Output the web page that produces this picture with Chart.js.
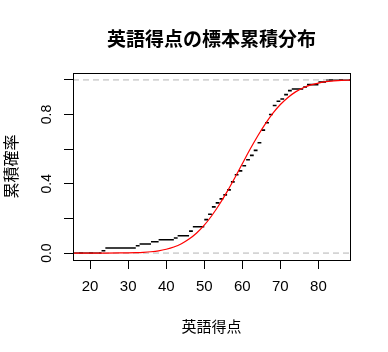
<!DOCTYPE html>
<html>
<head>
<meta charset="utf-8">
<script src="https://cdn.jsdelivr.net/npm/chart.js@4.4.1/dist/chart.umd.min.js"></script>
<style>
  body { margin: 0; background: #fff; }
</style>
</head>
<body>
<canvas id="ecdf" width="388" height="352"></canvas>
<script>
const mainTitle = '英語得点の標本累積分布';
const xTitle = '英語得点';
const yTitle = '累積確率';

// ECDF: score where a step happens, and the cumulative share after it
const knots   = [23, 24, 32, 33, 36, 38, 42, 43, 46, 47, 50, 51, 52, 53, 54, 55, 56, 57, 58, 59,
                 60, 61, 62, 63, 64, 65, 66, 67, 68, 69, 70, 71, 72, 73, 76, 77, 80, 82];
const cumProb = [0.013, 0.029, 0.042, 0.052, 0.065, 0.077, 0.087, 0.100, 0.127, 0.152,
                 0.193, 0.224, 0.267, 0.290, 0.313, 0.336, 0.365, 0.411, 0.452, 0.475,
                 0.504, 0.539, 0.564, 0.593, 0.637, 0.710, 0.753, 0.800, 0.852, 0.877,
                 0.890, 0.915, 0.938, 0.948, 0.959, 0.973, 0.988, 1.000];

// red normal curve
const curveX = [15.5, 20, 24, 28, 30, 32, 34, 36, 38, 40, 42, 44, 46, 48, 50, 52, 54, 56, 58,
                60, 62, 64, 66, 68, 70, 72, 74, 76, 78, 80, 82, 84, 86, 88.3];
const curveY = [0, 0, 0.0001, 0.0006, 0.0011, 0.0022, 0.0041, 0.0075, 0.013, 0.022, 0.035,
                0.054, 0.081, 0.116, 0.161, 0.217, 0.282, 0.355, 0.434, 0.516, 0.598, 0.675,
                0.745, 0.807, 0.858, 0.899, 0.931, 0.955, 0.971, 0.982, 0.990, 0.994, 0.997, 0.9985];

const xTicks = [20, 30, 40, 50, 60, 70, 80];
const yTicks = [0, 0.2, 0.4, 0.6, 0.8, 1];
const yTickLabels = ['0.0', '', '0.4', '', '0.8', ''];
const refLevels = [0, 1];
const xRange = [15.5, 88.3];
const yRange = [-0.04, 1.04];

// horizontal step pieces, broken apart with nulls
const edges = [xRange[0], ...knots, xRange[1]];
const levels = [0, ...cumProb];
const stepPts = [];
levels.forEach((lv, i) => {
  stepPts.push({x: edges[i], y: lv}, {x: edges[i + 1], y: lv}, {x: edges[i + 1], y: null});
});

const refPts = [];
refLevels.forEach(lv => {
  refPts.push({x: xRange[0], y: lv}, {x: xRange[1], y: lv}, {x: xRange[1], y: null});
});

const curvePts = curveX.map((x, i) => ({x: x, y: curveY[i]}));

const jpFont = '"Noto Sans CJK JP", sans-serif';
const numFont = '"Liberation Sans", Arial, sans-serif';

const extras = {
  id: 'extras',
  afterDraw(chart) {
    const {ctx, chartArea: a, scales} = chart;
    ctx.save();
    // box
    ctx.strokeStyle = '#000';
    ctx.lineWidth = 1;
    ctx.strokeRect(a.left + 0.5, a.top + 0.5, a.right - a.left, a.bottom - a.top);
    // rotated y tick labels
    ctx.fillStyle = '#000';
    ctx.font = '14px ' + numFont;
    ctx.textAlign = 'center';
    ctx.textBaseline = 'middle';
    yTicks.forEach((v, i) => {
      if (!yTickLabels[i]) return;
      ctx.save();
      ctx.translate(a.left - 26, scales.y.getPixelForValue(v));
      ctx.rotate(-Math.PI / 2);
      ctx.fillText(yTickLabels[i], 0, 0);
      ctx.restore();
    });
    // main title
    ctx.font = 'bold 19px ' + jpFont;
    ctx.fillText(mainTitle, (a.left + a.right) / 2, 39);
    ctx.restore();
  }
};

new Chart(document.getElementById('ecdf'), {
  type: 'scatter',
  data: {
    datasets: [
      {data: curvePts, showLine: true, borderColor: '#ff0000', borderWidth: 1.2,
       pointRadius: 0, cubicInterpolationMode: 'monotone', order: 0},
      {data: refPts, showLine: true, borderColor: '#b3b3b3', borderWidth: 1,
       borderDash: [6, 4], pointRadius: 0, spanGaps: false, order: 1},
      {data: stepPts, showLine: true, borderColor: '#000', borderWidth: 1.6,
       pointRadius: 0, spanGaps: false, order: 2}
    ]
  },
  options: {
    responsive: false,
    animation: false,
    layout: {padding: {top: 73, right: 38, left: 0, bottom: 0}},
    plugins: {legend: {display: false}, tooltip: {enabled: false}, title: {display: false}},
    scales: {
      x: {
        type: 'linear', min: xRange[0], max: xRange[1],
        afterBuildTicks: s => { s.ticks = xTicks.map(v => ({value: v})); },
        afterFit: s => { s.height = 92; },
        grid: {drawOnChartArea: false, drawTicks: true, tickLength: 9, color: '#000'},
        border: {display: true, color: '#000'},
        ticks: {color: '#000', font: {family: numFont, size: 15}, padding: 9,
                maxRotation: 0, autoSkip: false},
        title: {display: true, text: xTitle, color: '#000',
                font: {family: jpFont, size: 15}, padding: {top: 0, bottom: 17}}
      },
      y: {
        type: 'linear', min: yRange[0], max: yRange[1],
        afterBuildTicks: s => { s.ticks = yTicks.map(v => ({value: v})); },
        afterFit: s => { s.width = 73; },
        grid: {drawOnChartArea: false, drawTicks: true, tickLength: 9, color: '#000'},
        border: {display: true, color: '#000'},
        ticks: {display: false},
        title: {display: true, text: yTitle, color: '#000',
                font: {family: jpFont, size: 16}, padding: {top: 1, bottom: 0}}
      }
    }
  },
  plugins: [extras]
});
</script>
</body>
</html>
